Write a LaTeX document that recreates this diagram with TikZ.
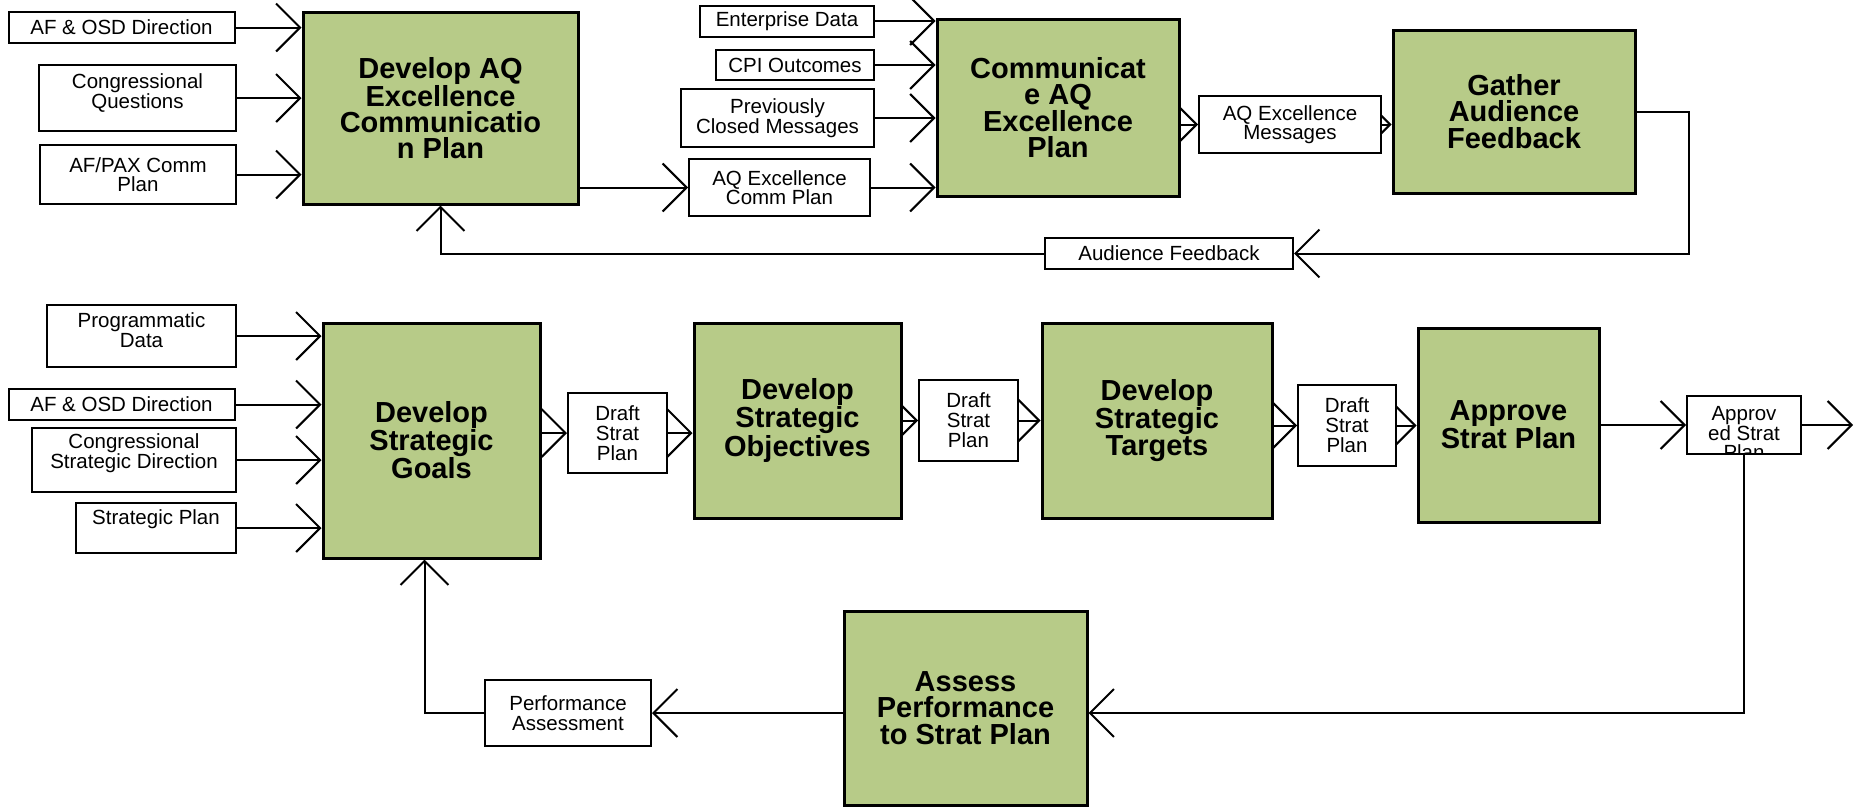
\documentclass[tikz,border=0pt]{standalone}
\usepackage{fontspec}
\setmainfont{Liberation Sans}
\usepackage{tikz}
\usetikzlibrary{arrows.meta}
\pgfdeclarelayer{bg}
\pgfsetlayers{bg,main}
\definecolor{taskgreen}{RGB}{183,203,136}
\newcommand{\smalltxt}{\fontsize{20.5}{19.5}\selectfont}
\newcommand{\drafttxt}{\fontsize{20.5}{20}\selectfont}
\newcommand{\tasktxt}{\fontsize{29}{26.5}\selectfont\bfseries}
\newcommand{\tasktxtiv}{\fontsize{29}{26}\selectfont\bfseries}

\begin{document}
\begin{tikzpicture}[
x=1pt, y=-1pt,
wh/.style 2 args={minimum width=#1pt, minimum height=#2pt},
inbox/.style={draw, line width=2pt, fill=white, align=center, font=\smalltxt, inner sep=2pt},
inlbl/.style={draw=none, fill=none, inner sep=0pt, minimum size=0pt, align=center, font=\smalltxt},
task/.style={draw, line width=3pt, fill=taskgreen, align=center, font=\tasktxt, inner sep=2pt},
arrow/.style={-{Straight Barb[length=24pt, width=48pt]}, line width=2pt}
]
\useasboundingbox (0,0) rectangle (1857,807);

% communication plan loop
\node[inbox, wh={226}{31}] (afosdA) at (121.5,27.5) {AF \& OSD Direction};
\node[inbox, wh={197}{66}, label={[inlbl, yshift=5pt]center:Congressional\\Questions}] (congq) at (137.5,98) {};
\node[inbox, wh={196}{59}] (afpax) at (138,174.5) {AF/PAX Comm\\Plan};
\node[task, wh={275}{192}, font=\tasktxtiv] (devaq) at (440.5,108) {Develop AQ\\Excellence\\Communicatio\\n Plan};
\node[inbox, wh={174}{31}] (entdata) at (787,21) {Enterprise Data};
\node[inbox, wh={158}{30}] (cpi) at (795,65) {CPI Outcomes};
\node[inbox, wh={193}{58}] (prevmsg) at (777.5,118) {Previously\\Closed Messages};
\node[inbox, wh={181}{57}] (aqcp) at (779.5,187.5) {AQ Excellence\\Comm Plan};
\node[task, wh={242}{177}, font=\tasktxtiv] (comm) at (1058,107.5) {Communicat\\e AQ\\Excellence\\Plan};
\node[inbox, wh={182}{57}] (aqmsg) at (1290,124.5) {AQ Excellence\\Messages};
\node[task, wh={242}{163}] (gather) at (1514,111.5) {Gather\\Audience\\Feedback};
\node[inbox, wh={248}{31}] (fb) at (1169,253.5) {Audience Feedback};

% strategic plan loop
\node[inbox, wh={189}{62}, label={[inlbl, yshift=6pt]center:Programmatic\\Data}] (prog) at (141.5,336) {};
\node[inbox, wh={226}{31}] (afosdB) at (121.5,404.5) {AF \& OSD Direction};
\node[inbox, wh={204}{64}, label={[inlbl, yshift=7pt]center:Congressional\\Strategic Direction}] (congsd) at (134,460) {};
\node[inbox, wh={160}{50}, label={[inlbl, yshift=9pt]center:Strategic Plan}] (stratplan) at (156,528) {};
\node[task, wh={217}{235}] (goals) at (431.5,440.5) {Develop\\Strategic\\Goals};
\node[inbox, wh={99}{80}, font=\drafttxt] (draftA) at (617.5,433) {Draft\\Strat\\Plan};
\node[task, wh={207}{195}] (obj) at (797.5,420.5) {Develop\\Strategic\\Objectives};
\node[inbox, wh={99}{81}, font=\drafttxt] (draftB) at (968.5,420.5) {Draft\\Strat\\Plan};
\node[task, wh={230}{195}] (targ) at (1157,420.5) {Develop\\Strategic\\Targets};
\node[inbox, wh={98}{81}, font=\drafttxt] (draftC) at (1347,425.5) {Draft\\Strat\\Plan};
\node[task, wh={181}{194}] (appr) at (1508.5,425) {Approve\\Strat Plan};
\node[inbox, wh={114}{58}, path picture={\node[inlbl, font=\fontsize{20.5}{18.3}\selectfont] at ([yshift=-8pt]path picture bounding box.center) {Approv\\ed Strat\\Plan};}] (apprd) at (1744,425) {};
\coordinate (outend) at (1853,425);
\node[task, wh={243}{194}] (assess) at (965.5,708) {Assess\\Performance\\to Strat Plan};
\node[inbox, wh={166}{66}] (perf) at (568,713) {Performance\\Assessment};

\begin{pgfonlayer}{bg}
\foreach \n in {afosdA, congq, afpax}
  \draw[arrow] (\n) -- (\n -| devaq.west);
\draw[arrow] (devaq.east |- aqcp) -- (aqcp);
\foreach \n in {entdata, cpi, prevmsg, aqcp}
  \draw[arrow] (\n) -- (\n -| comm.west);
\draw[arrow] (comm.east |- aqmsg) -- (aqmsg);
\draw[arrow] (aqmsg) -- (aqmsg -| gather.west);
\draw[arrow] (gather.east) -- ++(52,0) |- (fb.east);
\draw[arrow] (fb.west) -| (devaq.south);

\foreach \n in {prog, afosdB, congsd, stratplan}
  \draw[arrow] (\n) -- (\n -| goals.west);
\draw[arrow] (goals.east |- draftA) -- (draftA);
\draw[arrow] (draftA) -- (draftA -| obj.west);
\draw[arrow] (obj) -- (draftB);
\draw[arrow] (draftB) -- (targ);
\draw[arrow] (targ.east |- draftC) -- (draftC);
\draw[arrow] (draftC) -- (draftC -| appr.west);
\draw[arrow] (appr) -- (apprd);
\draw[arrow] (apprd) -- (outend);
\draw[arrow] (apprd.south) |- (perf -| assess.east);
\draw[arrow] (assess.west |- perf) -- (perf);
\draw[arrow] (perf.west) -| ([xshift=-7pt]goals.south);
\end{pgfonlayer}
\end{tikzpicture}
\end{document}
